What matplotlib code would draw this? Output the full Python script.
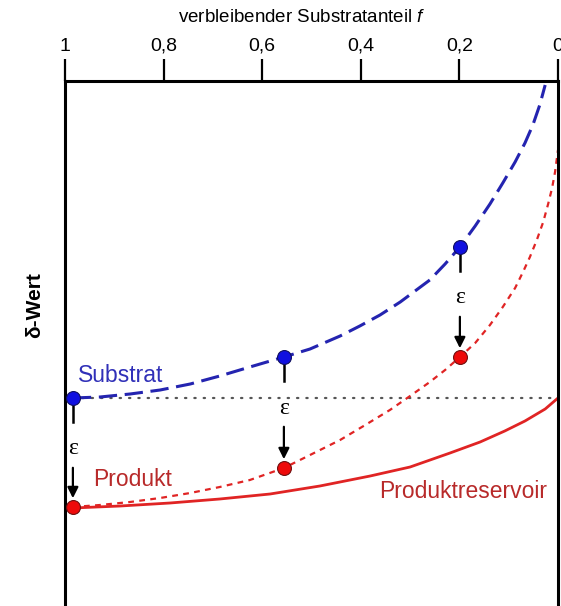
import numpy as np
import matplotlib
matplotlib.use('Agg')
from matplotlib import pyplot as plt

plt.rcParams['font.family'] = ['Liberation Sans', 'DejaVu Sans']
plt.rcParams['mathtext.fontset'] = 'custom'
plt.rcParams['mathtext.it'] = 'Liberation Sans:italic'

# Werte (f = verbleibender Substratanteil, delta in willkuerlichen Einheiten)
f_sub = [0.984, 0.929, 0.868, 0.807, 0.746, 0.686, 0.625, 0.556, 0.503, 0.442, 0.402, 0.361,
         0.320, 0.260, 0.229, 0.199, 0.168, 0.138, 0.112, 0.087, 0.067, 0.051, 0.037, 0.026]
d_sub = [0.0, 0.1, 0.4, 0.8, 1.4, 2.2, 3.1, 4.1, 4.9, 6.2, 7.2, 8.3,
         9.6, 11.8, 13.4, 15.1, 17.2, 19.4, 21.5, 23.6, 25.5, 27.3, 29.3, 31.3]

f_prod = [0.984, 0.929, 0.868, 0.807, 0.746, 0.686, 0.625, 0.556, 0.503, 0.442, 0.391, 0.341, 0.300, 0.260,
          0.229, 0.199, 0.168, 0.138, 0.112, 0.087, 0.071, 0.057, 0.043, 0.030, 0.020, 0.012, 0.006, 0.0]
d_prod = [-10.9, -10.7, -10.4, -10.0, -9.5, -8.9, -8.2, -7.0, -5.7, -4.2, -2.7, -1.2, 0.2, 1.6,
          2.8, 4.1, 5.5, 7.3, 9.1, 11.0, 12.6, 14.1, 15.8, 17.6, 19.4, 21.0, 22.6, 24.8]

f_res = [0.984, 0.888, 0.787, 0.686, 0.584, 0.483, 0.381, 0.300, 0.219, 0.158, 0.108, 0.067, 0.026, 0.0]
d_res = [-11.0, -10.8, -10.5, -10.1, -9.6, -8.8, -7.8, -6.9, -5.5, -4.4, -3.3, -2.3, -1.1, 0.0]

# Punkte mit epsilon-Pfeilen
f_pts = [0.984, 0.556, 0.199]
d_pts_sub = [0.0, 4.1, 15.1]
d_pts_prod = [-10.9, -7.0, 4.1]

xticks = [1, 0.8, 0.6, 0.4, 0.2, 0]
xticklabels = ['1', '0,8', '0,6', '0,4', '0,2', '0']

fig = plt.figure(figsize=(5.61, 6.06), dpi=100)
ax = fig.add_axes([65 / 561, 0, 493 / 561, 1 - 81 / 606])

blue_line = '#2424b0'
blue_dot = '#1010e0'
red_line = '#e02424'
red_dot = '#ee0a0a'
red_text = '#b82a2a'

ax.axhline(0, xmin=0.016, xmax=1, color='#555555', lw=1.6, ls=(0, (0.6, 3.6)), dash_capstyle='round')
ax.plot(f_res, d_res, color=red_line, lw=2.0)
ax.plot(f_prod, d_prod, color=red_line, lw=1.6, ls=(0, (2.6, 2.4)))
ax.plot(f_sub, d_sub, color=blue_line, lw=2.2, ls=(0, (6, 2.5)))

for f, ds, dp in zip(f_pts, d_pts_sub, d_pts_prod):
    ax.plot([f, f], [ds, ds - 2.4], color='black', lw=1.8)
    ax.text(f, ds - 5.1, 'ε', ha='center', va='center', fontsize=17,
            family=['Liberation Serif', 'DejaVu Serif'])
    ax.annotate('', xy=(f, dp + 0.6), xytext=(f, ds - 6.7),
                arrowprops=dict(arrowstyle='-|>', color='black', lw=1.6, mutation_scale=16))

ax.plot(f_pts, d_pts_sub, 'o', ms=10, color=blue_dot, mec='#101060', mew=0.8, zorder=5)
ax.plot(f_pts, d_pts_prod, 'o', ms=10, color=red_dot, mec='#701010', mew=0.8, zorder=5)

ax.text(0.888, 2.2, 'Substrat', color='#3030b8', fontsize=16.5, ha='center', va='center')
ax.text(0.862, -8.2, 'Produkt', color=red_text, fontsize=16.5, ha='center', va='center')
ax.text(0.193, -9.4, 'Produktreservoir', color=red_text, fontsize=16.5, ha='center', va='center')

ax.set_xlim(1, 0)
ax.set_ylim(-20.8, 31.7)
ax.xaxis.tick_top()
ax.set_xticks(xticks)
ax.set_xticklabels(xticklabels)
ax.tick_params(axis='x', direction='out', length=16, width=1.6, pad=3, labelsize=14)
ax.set_yticks([])
ax.spines['bottom'].set_visible(False)
for s in ['top', 'left', 'right']:
    ax.spines[s].set_linewidth(2.2)

fig.text(302 / 561, 1 - 18 / 606, 'verbleibender Substratanteil $f$', ha='center', va='center', fontsize=13.5)
fig.text(35 / 561, 1 - 305 / 606, 'δ-Wert', rotation=90, ha='center', va='center', fontsize=15,
         fontweight='bold')

fig.savefig('out.png', dpi=100)
